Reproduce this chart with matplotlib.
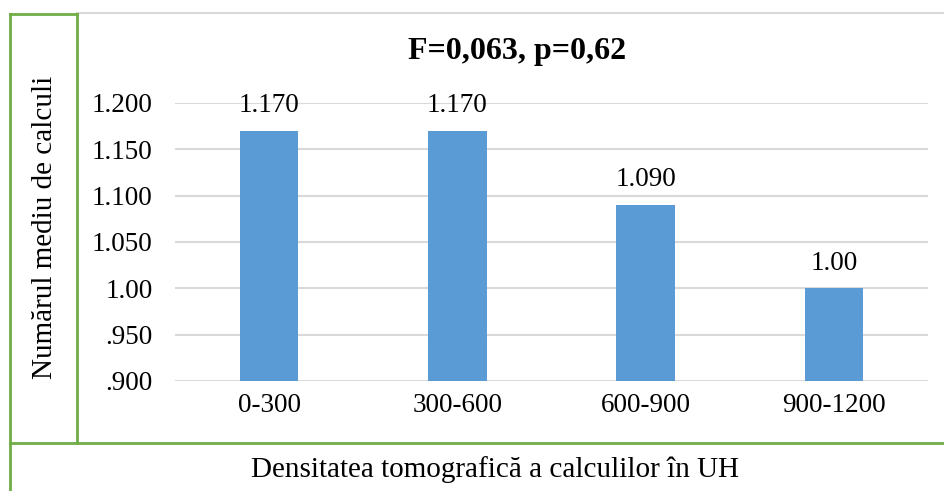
import matplotlib.pyplot as plt
from matplotlib.lines import Line2D

# dati
categorie = ["0-300", "300-600", "600-900", "900-1200"]
medie = [1.170, 1.170, 1.090, 1.00]
etichette_barre = ["1.170", "1.170", "1.090", "1.00"]
tick_y = [0.900, 0.950, 1.000, 1.050, 1.100, 1.150, 1.200]
tick_y_labels = [".900", ".950", "1.00", "1.050", "1.100", "1.150", "1.200"]

plt.rcParams['font.family'] = ['Liberation Serif', 'DejaVu Serif']

W, H = 944, 491
fig = plt.figure(figsize=(W / 100, H / 100), dpi=100)
ax = fig.add_axes([175 / W, 1 - 381 / H, (928 - 175) / W, (381 - 103) / H])

x = list(range(len(categorie)))
ax.bar(x, medie, width=0.31, color='#5b9bd5', zorder=3)
ax.set_xlim(-0.5, len(categorie) - 0.5)
ax.set_ylim(0.9, 1.2)
ax.set_yticks(tick_y)
ax.set_yticklabels(tick_y_labels)
ax.set_xticks(x)
ax.set_xticklabels(categorie)
ax.tick_params(axis='both', length=0, labelsize=19.5)
ax.tick_params(axis='y', pad=16)
ax.tick_params(axis='x', pad=9)
ax.grid(axis='y', color='#d9d9d9', linewidth=1.5, zorder=0)
for s in ax.spines.values():
    s.set_visible(False)

for xi, v, t in zip(x, medie, etichette_barre):
    ax.annotate(t, (xi, v), xytext=(0, 9), textcoords='offset points',
                ha='center', va='bottom', fontsize=19.5)

fig.text(517 / W, 1 - 52 / H, "F=0,063, p=0,62", ha='center', va='center',
         fontsize=23, fontweight='bold')
fig.text(45 / W, 1 - 227 / H, "Numărul mediu de calculi", rotation=90,
         ha='center', va='center', fontsize=21)
fig.text(495 / W, 1 - 470 / H, "Densitatea tomografică a calculilor în UH",
         ha='center', va='center', fontsize=21)

# cornice verde
verde = '#70ad47'
def linea(x0, y0, x1, y1, c=verde, lw=2):
    fig.add_artist(Line2D([x0 / W, x1 / W], [1 - y0 / H, 1 - y1 / H],
                          color=c, linewidth=lw, transform=fig.transFigure))

linea(77, 13, 944, 13, c='#d9d9d9', lw=1.5)
linea(10, 14, 77, 14)
linea(10, 14, 10, 491)
linea(77, 14, 77, 443)
linea(10, 443, 944, 443)

fig.savefig("out.png", dpi=100)
